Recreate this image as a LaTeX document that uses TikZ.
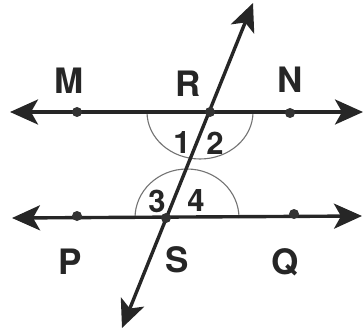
\documentclass[tikz,border=0pt]{standalone}
\usepackage{fontspec}
\setmainfont{TeX Gyre Heros}
\usetikzlibrary{arrows.meta}
\begin{document}
\begin{tikzpicture}[x=1pt,y=-1pt,
  tip/.tip={Stealth[length=28pt,width=25pt,inset=7pt]},
  ln/.style={line width=3.4pt,draw=black!85,tip-tip},
  pt/.style={circle,fill=black!80,inner sep=0pt,minimum size=10pt},
  lab/.style={font=\bfseries\fontsize{35}{35}\selectfont,text=black!85,inner sep=0pt},
  num/.style={font=\bfseries\fontsize{31}{31}\selectfont,text=black!85,inner sep=0pt},
  arcst/.style={draw=black!55,line width=1.1pt}]
\useasboundingbox (0,0) rectangle (363,331);
\coordinate (L1a) at (10,112);
\coordinate (L1b) at (363,112);
\coordinate (L2a) at (12,218);
\coordinate (L2b) at (362,216);
\coordinate (Ta) at (253,3);
\coordinate (Tb) at (122,328);
% arcs
\draw[arcst] (147,112) arc[start angle=180,end angle=0,x radius=53,y radius=47];
\draw[arcst] (135,218) arc[start angle=180,end angle=360,x radius=52,y radius=49];
\draw[ln] (L1a) -- (L1b);
\draw[ln] (L2a) -- (L2b);
\draw[ln] (Tb) -- (Ta);
\node[pt] (M) at (77,112) {};
\node[pt] (R) at (210,112) {};
\node[pt] (N) at (290,113) {};
\node[pt] (P) at (77,216) {};
\node[pt] (S) at (166,218) {};
\node[pt] (Q) at (294,214) {};
\node[lab] (lM) at (69,81) {M};
\node[lab] (lR) at (188,84) {R};
\node[lab] (lN) at (290,80) {N};
\node[lab] (lP) at (70,262) {P};
\node[lab] (lS) at (177,260) {S};
\node[lab] (lQ) at (285,262) {Q};
\node[num] (n1) at (182,143) {1};
\node[num] (n2) at (215,143) {2};
\node[num] (n3) at (157,201) {3};
\node[num] (n4) at (196,201) {4};
\end{tikzpicture}
\end{document}
